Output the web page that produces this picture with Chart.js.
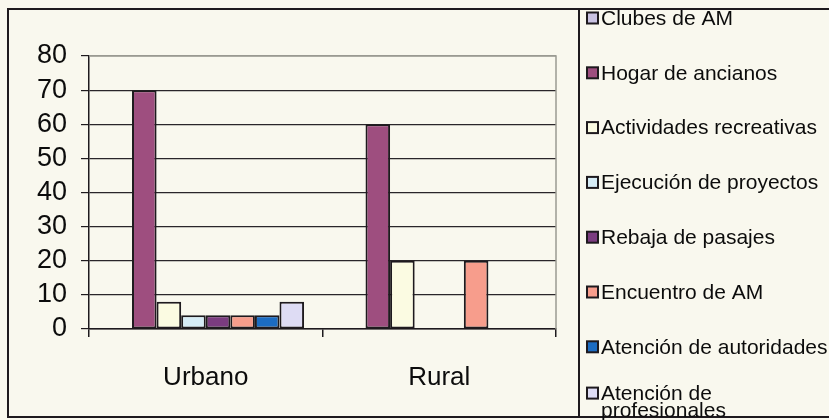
<!DOCTYPE html>
<html>
<head>
<meta charset="utf-8">
<title>Apoyo a adultos mayores</title>
<script src="https://cdn.jsdelivr.net/npm/chart.js@4.4.1/dist/chart.umd.min.js"></script>
<style>
    html, body { margin: 0; padding: 0; background: #f9f8ee; }
    #chartBox { position: relative; width: 829px; height: 420px; }
</style>
</head>
<body>
<div id="chartBox">
    <canvas id="servicesChart" width="829" height="420"></canvas>
</div>
<script>
// Chart data
var categories = ['Urbano', 'Rural'];
var seriesNames = [
    'Clubes de AM',
    'Hogar de ancianos',
    'Actividades recreativas',
    'Ejecución de proyectos',
    'Rebaja de pasajes',
    'Encuentro de AM',
    'Atención de autoridades',
    'Atención de profesionales'
];
var clubesAM = [0, 0];
var hogarAncianos = [70, 60];
var actividadesRecreativas = [8, 20];
var ejecucionProyectos = [4, 0];
var rebajaPasajes = [4, 0];
var encuentroAM = [4, 20];
var atencionAutoridades = [4, 0];
var atencionProfesionales = [8, 0];
var yTicks = [0, 10, 20, 30, 40, 50, 60, 70, 80];

var seriesValues = [
    clubesAM, hogarAncianos, actividadesRecreativas, ejecucionProyectos,
    rebajaPasajes, encuentroAM, atencionAutoridades, atencionProfesionales
];
var seriesColors = [
    '#c9c2e2', '#9e4e7f', '#fbfbe2', '#d6ecf6',
    '#7b3c80', '#f79d8c', '#1c6cc2', '#dedcf4'
];

var FONT = "'Liberation Sans', Arial, sans-serif";
var INK = '#1e1a1e';

// frame around chart and legend, like the scanned sheet
var framePlugin = {
    id: 'frame',
    beforeDraw: function(chart) {
        var c = chart.ctx;
        c.save();
        c.fillStyle = '#f9f8ee';
        c.fillRect(0, 0, chart.width, chart.height);
        c.restore();
    },
    beforeDatasetsDraw: function(chart) {
        var a = chart.chartArea;
        var c = chart.ctx;
        c.save();
        c.strokeStyle = '#9a9a92';
        c.lineWidth = 1.5;
        c.beginPath();
        c.moveTo(a.left, a.top);
        c.lineTo(a.right, a.top);
        c.lineTo(a.right, a.bottom);
        c.stroke();
        c.restore();
    },
    afterDraw: function(chart) {
        var c = chart.ctx;
        c.save();
        c.strokeStyle = INK;
        c.lineWidth = 2;
        c.beginPath();
        c.moveTo(chart.width, 9);
        c.lineTo(8, 9);
        c.lineTo(8, 417);
        c.lineTo(chart.width, 417);
        c.moveTo(579, 9);
        c.lineTo(579, 417);
        c.stroke();
        c.restore();
    }
};

// legend on the right, one entry per dataset, long names wrap
var sideLegendPlugin = {
    id: 'sideLegend',
    afterDraw: function(chart) {
        var c = chart.ctx;
        var boxX = 587, boxSize = 11, textX = 601;
        var maxWidth = 236, lineHeight = 17, step = 54.8, firstY = 18;
        c.save();
        c.font = '21px ' + FONT;
        c.textBaseline = 'middle';
        chart.data.datasets.forEach(function(ds, i) {
            var words = ds.label.split(' ');
            var lines = [];
            var line = '';
            words.forEach(function(w) {
                var test = line ? line + ' ' + w : w;
                if (line && c.measureText(test).width > maxWidth) {
                    lines.push(line);
                    line = w;
                } else {
                    line = test;
                }
            });
            lines.push(line);

            var cy = firstY + i * step;
            var y0 = cy - (lines.length - 1) * lineHeight / 2;
            c.fillStyle = ds.backgroundColor;
            c.fillRect(boxX, y0 - boxSize / 2, boxSize, boxSize);
            c.strokeStyle = INK;
            c.lineWidth = 2;
            c.strokeRect(boxX, y0 - boxSize / 2, boxSize, boxSize);
            c.fillStyle = '#0c0c0c';
            lines.forEach(function(t, k) {
                c.fillText(t, textX, y0 + k * lineHeight + 1);
            });
        });
        c.restore();
    }
};

function initServicesChart() {
    var canvas = document.getElementById('servicesChart');
    if (!canvas) return;

    var datasets = seriesNames.map(function(name, i) {
        return {
            label: name,
            data: seriesValues[i],
            backgroundColor: seriesColors[i],
            borderColor: INK,
            borderWidth: 2,
            borderSkipped: false,
            categoryPercentage: 8 / 9.5,
            barPercentage: 1
        };
    });

    new Chart(canvas.getContext('2d'), {
        type: 'bar',
        data: { labels: categories, datasets: datasets },
        options: {
            responsive: false,
            animation: false,
            layout: { padding: { left: 0, right: 273, top: 56, bottom: 0 } },
            plugins: {
                legend: { display: false },
                tooltip: { enabled: false }
            },
            scales: {
                x: {
                    afterFit: function(scale) { scale.height = 91; },
                    grid: {
                        offset: true,
                        drawOnChartArea: false,
                        drawTicks: true,
                        tickLength: 8,
                        color: INK,
                        lineWidth: 1.5
                    },
                    border: { display: true, color: INK, width: 1.5 },
                    ticks: {
                        padding: 25,
                        color: '#0c0c0c',
                        font: { family: FONT, size: 26 }
                    }
                },
                y: {
                    min: 0,
                    max: 80,
                    afterFit: function(scale) { scale.width = 89; },
                    afterBuildTicks: function(scale) {
                        scale.ticks = yTicks.map(function(v) { return { value: v }; });
                    },
                    grid: {
                        color: function(ctx) {
                            return ctx.tick && ctx.tick.value === 80 ? '#9a9a92' : '#2a262a';
                        },
                        tickColor: INK,
                        tickLength: 8,
                        lineWidth: 1.2
                    },
                    border: { display: true, color: INK, width: 1.5 },
                    ticks: {
                        autoSkip: false,
                        padding: 14,
                        color: '#0c0c0c',
                        font: { family: FONT, size: 27 }
                    }
                }
            }
        },
        plugins: [framePlugin, sideLegendPlugin]
    });
}

initServicesChart();
</script>
</body>
</html>
